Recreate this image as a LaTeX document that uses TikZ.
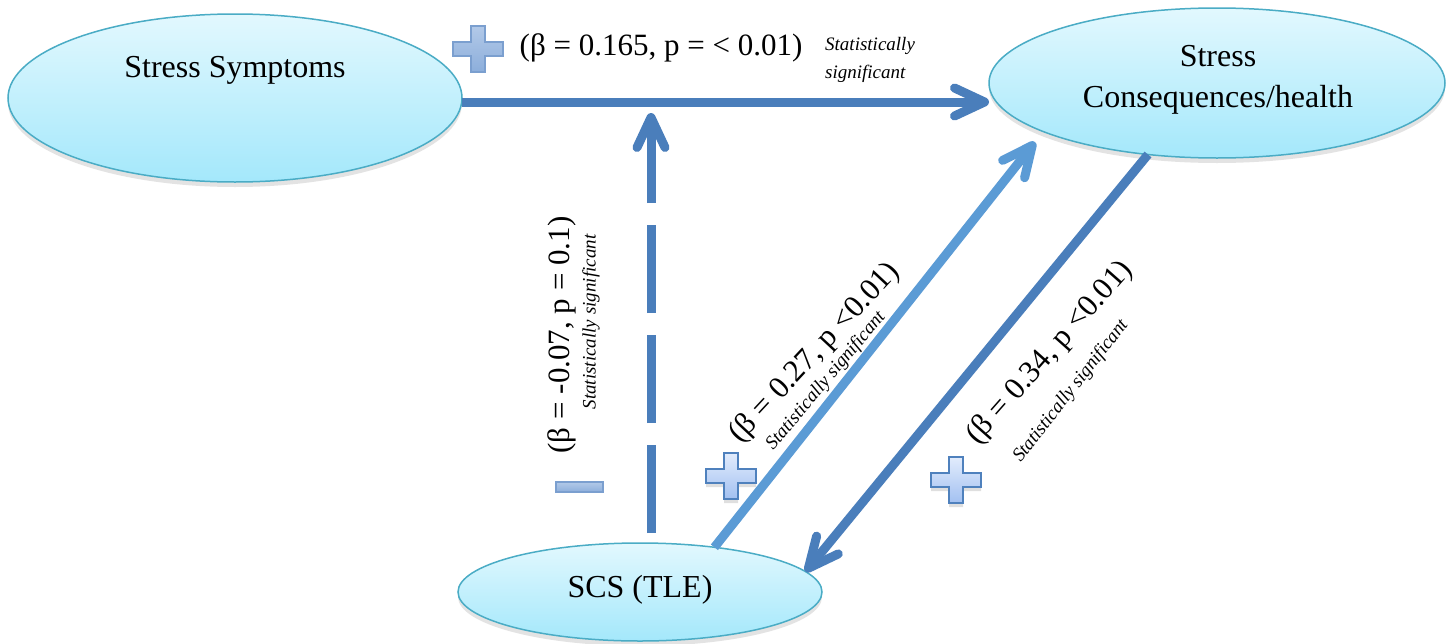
\documentclass[tikz,border=0pt]{standalone}
\usepackage{fontspec}
\setmainfont{Liberation Serif}
\usetikzlibrary{arrows.meta,shapes.geometric,shadows,calc}
\definecolor{darkarr}{HTML}{4A7EBB}
\definecolor{lightarr}{HTML}{5B9BD5}
\definecolor{elltop}{HTML}{E2F8FE}
\definecolor{ellbot}{HTML}{A4E8FB}
\definecolor{ellline}{HTML}{4AACC5}
\definecolor{plusAtop}{HTML}{B2C9E8}
\definecolor{plusAbot}{HTML}{8CAEDB}
\definecolor{plusAline}{HTML}{7B9FCF}
\definecolor{plusBtop}{HTML}{E2ECFC}
\definecolor{plusBbot}{HTML}{A2C0F1}
\definecolor{plusBline}{HTML}{4F81BD}
\tikzset{
  pics/plusbox/.style={code={
    \path[#1] (-7,-23) -- (7,-23) -- (7,-7) -- (25,-7) -- (25,7) -- (7,7) -- (7,23)
      -- (-7,23) -- (-7,7) -- (-25,7) -- (-25,-7) -- (-7,-7) -- cycle;}},
  plusA/.style={top color=plusAtop, bottom color=plusAbot, draw=plusAline, line width=1.2pt},
  plusB/.style={top color=plusBtop, bottom color=plusBbot, draw=plusBline, line width=1.5pt,
    drop shadow={shadow xshift=0pt, shadow yshift=-4pt, opacity=0.25}},
  minusst/.style={top color=plusAtop, bottom color=plusAbot, draw=plusAline, line width=1.2pt},
}
\begin{document}
\begin{tikzpicture}[x=1pt,y=-1pt,
  ell/.style={ellipse, draw=ellline, line width=1.5pt, top color=elltop, bottom color=ellbot,
    inner sep=0pt, outer sep=0pt,
    drop shadow={shadow xshift=0pt, shadow yshift=-5pt, opacity=0.22}},
  etext/.style={font=\fontsize{32}{41}\selectfont, inner sep=0pt},
  lab/.style={font=\fontsize{31}{31}\selectfont, inner sep=0pt},
  sig/.style={font=\fontsize{19}{28}\selectfont\itshape, inner sep=0pt},
  arr/.style={line width=9pt, -{Straight Barb[length=30pt,width=28pt,round]}},
]
\fill[white] (0,0) rectangle (1454,643);
\useasboundingbox (0,0) rectangle (1454,643);

% ellipses
\node[ell, minimum width=454pt, minimum height=168pt] (ss) at (235,98) {};
\node[ell, minimum width=456pt, minimum height=150pt] (sc) at (1217,83) {};
\node[ell, minimum width=364pt, minimum height=98pt] (scs) at (640,592) {};
\node[etext] (sst) at (235,70) {Stress Symptoms};
\node[etext, align=center] (sct) at (1218,80) {Stress\\Consequences/health};
\node[etext] (scst) at (640,590) {SCS (TLE)};

% connectors
\coordinate (vtip) at (651,113);
\coordinate (lbtip) at (1035,142);
\draw[arr, darkarr, drop shadow={shadow xshift=0pt, shadow yshift=-3pt, opacity=0.15}] ([yshift=-4pt]ss.east) -- ([yshift=-19pt]sc.west);
\draw[arr, darkarr, dash pattern=on 88pt off 22pt] ([xshift=11pt,yshift=10pt]scs.north) -- (vtip);
\draw[arr, lightarr] (scs.31) -- (lbtip);
\draw[arr, darkarr] (sc.226) -- (scs.7);

% labels
\node[lab] (l1) at (661,48) {(β = 0.165, p = < 0.01)};
\node[sig, align=left, anchor=west] (s1) at (825,60) {Statistically\\significant};
\node[lab, rotate=90] (l2) at (562,335) {(β = -0.07, p = 0.1)};
\node[sig, rotate=90] (s2) at (591,322) {Statistically significant};
\node[lab, rotate=47] (l3) at (815,353) {(β = 0.27, p <0.01)};
\node[sig, rotate=50] (s3) at (826,381) {Statistically significant};
\node[lab, rotate=48.5] (l4) at (1050,353) {(β = 0.34, p <0.01)};
\node[sig, rotate=52] (s4) at (1071,391) {Statistically significant};

% signs
\pic at (478,49) {plusbox=plusA};
\pic at (731,476) {plusbox=plusB};
\pic at (956,480) {plusbox=plusB};
\path[minusst] (556,482) rectangle (603,492);
\end{tikzpicture}
\end{document}
